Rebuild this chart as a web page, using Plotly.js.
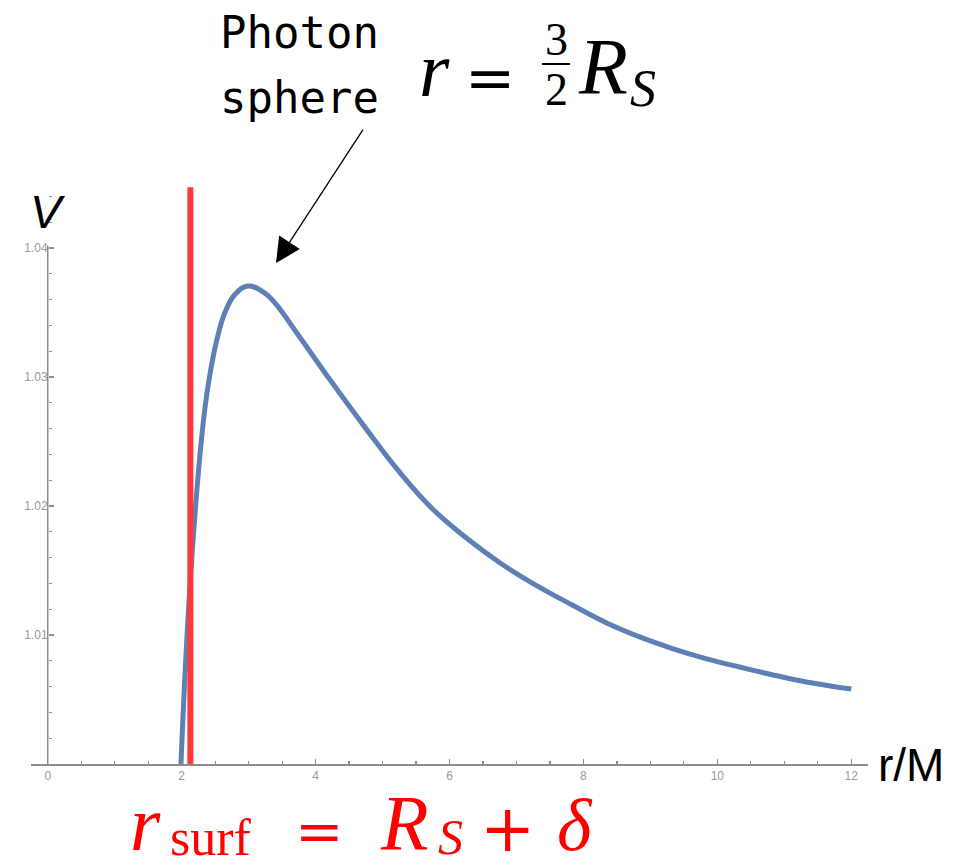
<!DOCTYPE html>
<html>
<head>
<meta charset="utf-8">
<script src="https://cdn.plot.ly/plotly-3.0.1.min.js"></script>
<style>
  html, body { margin: 0; padding: 0; background: #ffffff; }
  #chart { width: 964px; height: 867px; }
</style>
</head>
<body>
<div id="chart"></div>
<script>
// Effective potential V(r) outside a compact object, r in units of M
const rValues = [1.99, 2.094, 2.243, 2.348, 2.422, 2.522, 2.646, 2.796, 2.99, 3.243,
                 3.393, 3.736, 4.213, 4.766, 5.258, 5.751, 6.258, 6.751, 7.243, 7.84,
                 8.348, 8.84, 9.33, 9.84, 10.33, 10.82, 11.33, 12.0];
const vValues = [1.0, 1.0112, 1.0222, 1.0276, 1.0302, 1.0328, 1.0350, 1.0364, 1.03705, 1.0365,
                 1.03574, 1.0333, 1.0298, 1.0259, 1.0226, 1.01975, 1.0175, 1.0156, 1.0140, 1.0123,
                 1.01093, 1.00985, 1.00895, 1.00815, 1.00752, 1.00692, 1.00636, 1.00581];

// Surface radius r_surf = R_S + delta (vertical marker)
const rSurf = 2.13;
const surfLine = [1.0, 1.0447];

// Axis ticks
const xTicks = [0, 2, 4, 6, 8, 10, 12];
const yTicks = [1.01, 1.02, 1.03, 1.04];
const yTickText = ['1.01', '1.02', '1.03', '1.04'];

const W = 964, H = 867;
const M = { l: 31, r: 96, t: 180, b: 103 };
const plotW = W - M.l - M.r, plotH = H - M.t - M.b;
// pixel -> paper helpers for free-floating text
const px = x => (x - M.l) / plotW;
const py = y => (H - M.b - y) / plotH;

const axisGrey = '#8c8c8c';
const labelGrey = '#9a9a9a';

const traces = [
  {
    x: rValues, y: vValues, type: 'scatter', mode: 'lines',
    line: { color: '#5E81B5', width: 5, shape: 'spline', smoothing: 1.2 },
    hoverinfo: 'skip', showlegend: false
  },
  {
    x: [rSurf, rSurf], y: surfLine, type: 'scatter', mode: 'lines',
    line: { color: '#ff3838', width: 6 },
    hoverinfo: 'skip', showlegend: false
  }
];

function txt(text, x, y, size, opts) {
  opts = opts || {};
  return {
    text: text, xref: 'paper', yref: 'paper', x: px(x), y: py(y),
    xanchor: opts.xanchor || 'center', yanchor: 'middle', showarrow: false,
    borderpad: 0,
    font: {
      family: opts.family || 'Liberation Serif, serif',
      size: size, color: opts.color || '#000000',
      style: opts.italic ? 'italic' : 'normal'
    }
  };
}

const red = '#ff0000';
const symFont = 'DejaVu Serif, serif';
const annotations = [
  // axis names
  txt('V', 47, 211, 47, { family: 'Liberation Sans, Arial, sans-serif', italic: true }),
  txt('r/M', 911, 765, 46, { family: 'Liberation Sans, Arial, sans-serif' }),
  // photon sphere label
  txt('Photon', 219, 32, 44, { family: 'DejaVu Sans Mono, monospace', xanchor: 'left' }),
  txt('sphere', 219, 97, 44, { family: 'DejaVu Sans Mono, monospace', xanchor: 'left' }),
  // r = (3/2) R_S
  txt('r', 434, 69, 78, { italic: true }),
  txt('=', 490, 77, 60, { family: symFont }),
  txt('3', 556, 39, 46),
  txt('2', 556, 90, 46),
  txt('R', 603, 67, 80, { italic: true }),
  txt('S', 643, 88, 52, { italic: true }),
  // r_surf = R_S + delta
  txt('r', 145, 823, 78, { italic: true, color: red }),
  txt('surf', 211, 837, 52, { color: red }),
  txt('=', 319, 831, 58, { family: symFont, color: red }),
  txt('R', 404, 822, 78, { italic: true, color: red }),
  txt('S', 450, 837, 50, { italic: true, color: red }),
  txt('+', 507, 828, 66, { family: symFont, color: red }),
  txt('δ', 575, 825, 74, { italic: true, color: red }),
  // arrow pointing at the peak of the potential
  {
    text: ' ', xref: 'paper', yref: 'paper', x: px(276), y: py(263),
    ax: 90, ay: -138, showarrow: true, arrowhead: 2, arrowsize: 3.8,
    arrowwidth: 1.3, arrowcolor: '#000000', standoff: 0, startstandoff: 0
  }
];

const shapes = [
  // vertical axis line through r = 0
  { type: 'line', xref: 'x', yref: 'y', x0: 0, x1: 0, y0: 1.0, y1: 1.0402,
    line: { color: axisGrey, width: 1.5 } },
  // fraction bar of 3/2
  { type: 'line', xref: 'paper', yref: 'paper', x0: px(542), x1: px(570), y0: py(64), y1: py(64),
    line: { color: '#000000', width: 2 } }
];

const layout = {
  width: W, height: H,
  margin: M,
  paper_bgcolor: '#ffffff', plot_bgcolor: '#ffffff',
  showlegend: false,
  xaxis: {
    range: [-0.25, 12.25], showgrid: false, zeroline: false,
    showline: true, linecolor: axisGrey, linewidth: 1.5,
    tickmode: 'array', tickvals: xTicks,
    ticks: 'inside', ticklen: 5, tickwidth: 1.2, tickcolor: axisGrey,
    tickfont: { family: 'Liberation Sans, Arial, sans-serif', size: 12, color: labelGrey },
    minor: { ticks: 'inside', ticklen: 3, tickwidth: 1.2, tickcolor: axisGrey, tick0: 0, dtick: 0.5 }
  },
  yaxis: {
    range: [1.0, 1.04527], showgrid: false, zeroline: false, showline: false,
    anchor: 'free', position: px(47.7), side: 'left',
    tickmode: 'array', tickvals: yTicks, ticktext: yTickText,
    ticks: 'inside', ticklen: 5, tickwidth: 1.2, tickcolor: axisGrey,
    tickfont: { family: 'Liberation Sans, Arial, sans-serif', size: 12, color: labelGrey },
    minor: { ticks: 'inside', ticklen: 3, tickwidth: 1.2, tickcolor: axisGrey, tick0: 1.0, dtick: 0.002 }
  },
  annotations: annotations,
  shapes: shapes
};

Plotly.newPlot('chart', traces, layout, { staticPlot: true, displayModeBar: false });
</script>
</body>
</html>
